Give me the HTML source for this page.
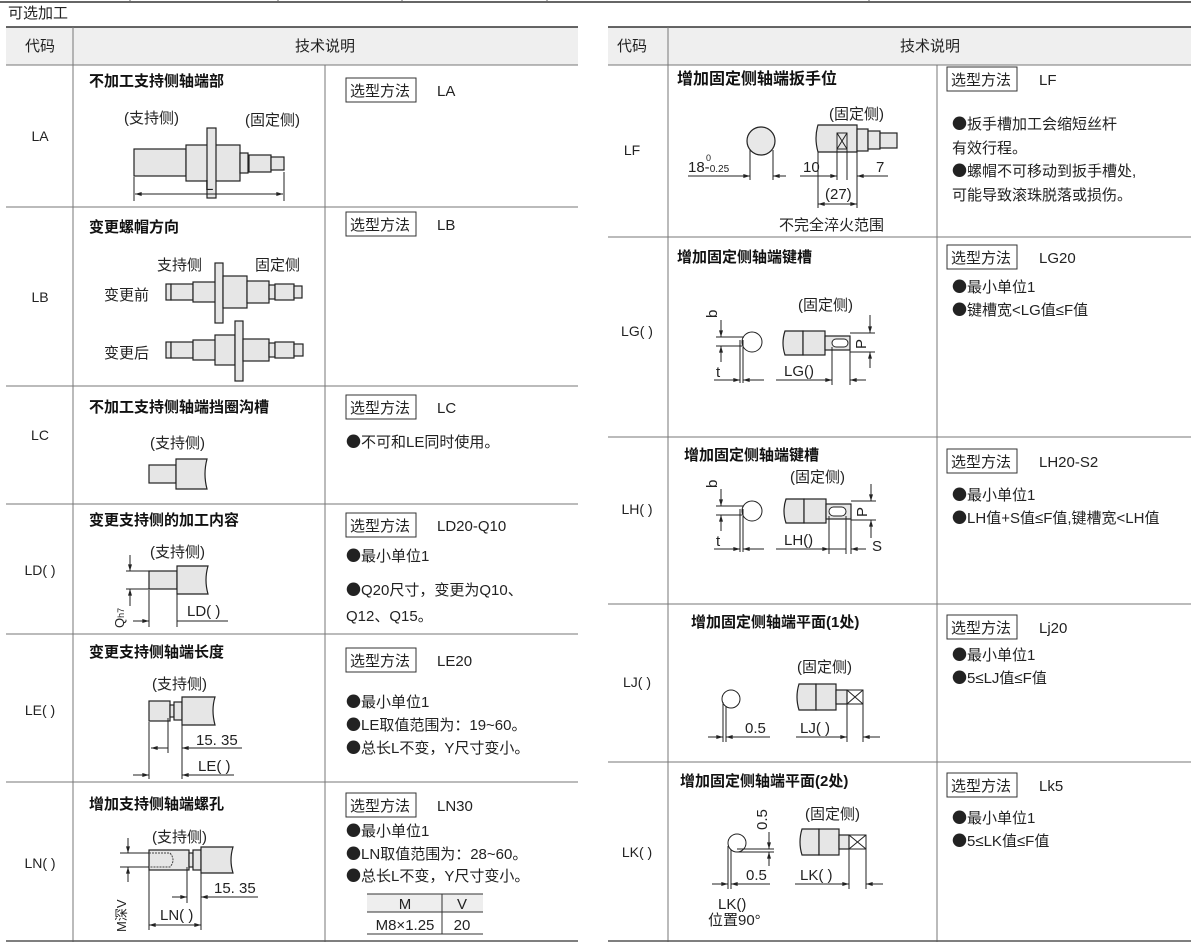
<!DOCTYPE html>
<html><head><meta charset="utf-8"><style>
html,body{margin:0;padding:0;background:#fff;}
svg{display:block;font-family:"Liberation Sans","Noto Sans CJK SC",sans-serif;}
.t{font-size:15px;fill:#222}
.c{font-size:14px;fill:#222}
.b{font-size:15px;font-weight:bold;fill:#111}
.s{font-size:13px;fill:#222}
.sh{fill:#e6e6e6;stroke:#222;stroke-width:1.2}
.ln{stroke:#222;stroke-width:1;fill:none}
.k{font-family:"Noto Sans CJK SC",sans-serif}
</style></head><body>
<svg width="1191" height="948" viewBox="0 0 1191 948" xmlns="http://www.w3.org/2000/svg">
<defs><marker id="a" viewBox="0 0 10 6" refX="10" refY="3" markerWidth="8" markerHeight="4" orient="auto-start-reverse"><path d="M0,0L10,3L0,6z" fill="#222"/></marker></defs>
<line x1="0" y1="2" x2="1191" y2="2" stroke="#666" stroke-width="2"/>
<g stroke="#666"><line x1="130" y1="0" x2="130" y2="3"/><line x1="278" y1="0" x2="278" y2="3"/><line x1="402" y1="0" x2="402" y2="3"/><line x1="547" y1="0" x2="547" y2="3"/><line x1="869" y1="0" x2="869" y2="3"/></g>
<text x="8" y="18" class="t">可选加工</text>

<!-- LEFT TABLE -->
<rect x="6" y="27" width="572" height="38" fill="#efefef"/>
<line x1="6" y1="27" x2="578" y2="27" stroke="#333" stroke-width="1.5"/>
<g stroke="#777" stroke-width="1">
<line x1="6" y1="65" x2="578" y2="65"/><line x1="6" y1="207" x2="578" y2="207"/><line x1="6" y1="386" x2="578" y2="386"/>
<line x1="6" y1="504" x2="578" y2="504"/><line x1="6" y1="634" x2="578" y2="634"/><line x1="6" y1="782" x2="578" y2="782"/>
<line x1="73" y1="27" x2="73" y2="942"/><line x1="325" y1="65" x2="325" y2="942"/></g>
<line x1="6" y1="941" x2="578" y2="941" stroke="#555" stroke-width="1.5"/>
<text x="40" y="51" class="t" text-anchor="middle">代码</text>
<text x="325" y="51" class="t" text-anchor="middle">技术说明</text>
<g class="c" text-anchor="middle"><text x="40" y="141">LA</text><text x="40" y="302">LB</text><text x="40" y="440">LC</text><text x="40" y="575">LD( )</text><text x="40" y="715">LE( )</text><text x="40" y="868">LN( )</text></g>
<g fill="none" stroke="#333"><rect x="346" y="78" width="70" height="24"/><rect x="346" y="212" width="70" height="24"/><rect x="346" y="395" width="70" height="24"/><rect x="346" y="513" width="70" height="24"/><rect x="346" y="648" width="70" height="24"/><rect x="346" y="793" width="70" height="24"/></g>
<g class="t"><text x="350" y="96">选型方法</text><text x="437" y="96">LA</text>
<text x="350" y="230">选型方法</text><text x="437" y="230">LB</text>
<text x="350" y="413">选型方法</text><text x="437" y="413">LC</text>
<text x="350" y="531">选型方法</text><text x="437" y="531">LD20-Q10</text>
<text x="350" y="666">选型方法</text><text x="437" y="666">LE20</text>
<text x="350" y="811">选型方法</text><text x="437" y="811">LN30</text>
<text x="346" y="447"><tspan class="k">●</tspan>不可和LE同时使用。</text>
<text x="346" y="561"><tspan class="k">●</tspan>最小单位1</text><text x="346" y="595"><tspan class="k">●</tspan>Q20尺寸，变更为Q10、</text><text x="346" y="621">Q12、Q15。</text>
<text x="346" y="707"><tspan class="k">●</tspan>最小单位1</text><text x="346" y="730"><tspan class="k">●</tspan>LE取值范围为：19~60。</text><text x="346" y="753"><tspan class="k">●</tspan>总长L不变，Y尺寸变小。</text>
<text x="346" y="836"><tspan class="k">●</tspan>最小单位1</text><text x="346" y="859"><tspan class="k">●</tspan>LN取值范围为：28~60。</text><text x="346" y="881"><tspan class="k">●</tspan>总长L不变，Y尺寸变小。</text></g>
<rect x="367" y="894" width="116" height="18" fill="#eee"/>
<g stroke="#333"><line x1="367" y1="894" x2="483" y2="894"/><line x1="367" y1="912" x2="483" y2="912"/><line x1="367" y1="934" x2="483" y2="934"/><line x1="442" y1="894" x2="442" y2="934"/></g>
<g class="t" text-anchor="middle"><text x="405" y="909">M</text><text x="462" y="909">V</text><text x="405" y="930">M8×1.25</text><text x="462" y="930">20</text></g>

<g class="b"><text x="89" y="86">不加工支持侧轴端部</text><text x="89" y="232">变更螺帽方向</text><text x="89" y="412">不加工支持侧轴端挡圈沟槽</text><text x="89" y="525">变更支持侧的加工内容</text><text x="89" y="657">变更支持侧轴端长度</text><text x="89" y="809">增加支持侧轴端螺孔</text></g>

<!-- LA -->
<text x="124" y="123" class="t">(支持侧)</text><text x="245" y="125" class="t">(固定侧)</text>
<rect class="sh" x="134" y="149" width="52" height="27"/><rect class="sh" x="186" y="145" width="54" height="36"/>
<rect class="sh" x="207" y="128" width="9" height="70"/>
<rect class="sh" x="240" y="153" width="8" height="20"/><rect class="sh" x="249" y="155" width="22" height="17"/><rect class="sh" x="271" y="157" width="13" height="13"/>
<line class="ln" x1="134" y1="177" x2="134" y2="201"/><line class="ln" x1="284" y1="172" x2="284" y2="201"/>
<line class="ln" x1="135" y1="194" x2="283" y2="194" marker-start="url(#a)" marker-end="url(#a)"/>
<text x="205" y="190" class="t">L</text>

<!-- LB -->
<text x="157" y="270" class="t">支持侧</text><text x="255" y="270" class="t">固定侧</text>
<text x="104" y="300" class="t">变更前</text><text x="104" y="358" class="t">变更后</text>
<rect class="sh" x="166" y="284" width="5" height="16"/><rect class="sh" x="171" y="284" width="22" height="16"/><rect class="sh" x="193" y="282" width="23" height="20"/>
<rect class="sh" x="215" y="263" width="8" height="60"/><rect class="sh" x="223" y="276" width="24" height="32"/><rect class="sh" x="247" y="281" width="22" height="22"/><rect class="sh" x="269" y="285" width="6" height="14"/><rect class="sh" x="275" y="284" width="19" height="16"/><rect class="sh" x="294" y="286" width="8" height="12"/>
<rect class="sh" x="166" y="342" width="5" height="16"/><rect class="sh" x="171" y="342" width="22" height="16"/><rect class="sh" x="193" y="340" width="23" height="20"/>
<rect class="sh" x="215" y="335" width="20" height="30"/><rect class="sh" x="235" y="321" width="8" height="60"/><rect class="sh" x="243" y="339" width="26" height="22"/><rect class="sh" x="269" y="343" width="6" height="14"/><rect class="sh" x="275" y="342" width="19" height="16"/><rect class="sh" x="294" y="344" width="9" height="12"/>

<!-- LC -->
<text x="150" y="448" class="t">(支持侧)</text>
<rect class="sh" x="149" y="465" width="27" height="18"/><path class="sh" d="M176,459H207Q203,474 207,489H176Z"/>

<!-- LD -->
<text x="150" y="557" class="t">(支持侧)</text>
<rect class="sh" x="149" y="571" width="28" height="18"/><path class="sh" d="M177,566H208Q204,580 208,594H177Z"/>
<line class="ln" x1="126" y1="571" x2="149" y2="571"/><line class="ln" x1="126" y1="589" x2="149" y2="589"/>
<line class="ln" x1="130" y1="555" x2="130" y2="571" marker-end="url(#a)"/><line class="ln" x1="130" y1="606" x2="130" y2="589" marker-end="url(#a)"/>
<line class="ln" x1="149" y1="590" x2="149" y2="627"/><line class="ln" x1="177" y1="594" x2="177" y2="627"/>
<line class="ln" x1="133" y1="621" x2="149" y2="621" marker-end="url(#a)"/><line class="ln" x1="177" y1="621" x2="228" y2="621"/>
<text x="187" y="616" class="t">LD( )</text>
<text transform="translate(124,628) rotate(-90)" class="s">Q<tspan font-size="9">h7</tspan></text>

<!-- LE -->
<text x="152" y="689" class="t">(支持侧)</text>
<rect class="sh" x="149" y="701" width="21" height="20"/><rect class="sh" x="170" y="705" width="4" height="12"/><rect class="sh" x="174" y="702" width="8" height="18"/><path class="sh" d="M182,697H215Q211,710 215,725H182Z"/>
<line class="ln" x1="149" y1="722" x2="149" y2="779"/><line class="ln" x1="168" y1="718" x2="168" y2="753"/><line class="ln" x1="182" y1="725" x2="182" y2="779"/>
<line class="ln" x1="151" y1="748" x2="168" y2="748" marker-start="url(#a)"/><line class="ln" x1="182" y1="748" x2="242" y2="748" marker-start="url(#a)"/>
<line class="ln" x1="133" y1="775" x2="149" y2="775" marker-end="url(#a)"/><line class="ln" x1="182" y1="775" x2="234" y2="775" marker-start="url(#a)"/>
<text x="196" y="745" class="t">15. 35</text><text x="198" y="771" class="t">LE( )</text>

<!-- LN -->
<text x="152" y="842" class="t">(支持侧)</text>
<rect class="sh" x="149" y="850" width="40" height="20"/><path d="M149,853H170Q176,860 170,867H149" fill="none" stroke="#444" stroke-dasharray="2,1"/>
<rect class="sh" x="189" y="853" width="4" height="14"/><rect class="sh" x="193" y="850" width="8" height="20"/><path class="sh" d="M201,847H233Q229,860 233,873H201Z"/>
<line class="ln" x1="120" y1="853" x2="149" y2="853"/><line class="ln" x1="120" y1="867" x2="149" y2="867"/>
<line class="ln" x1="128" y1="838" x2="128" y2="853" marker-end="url(#a)"/><line class="ln" x1="128" y1="882" x2="128" y2="867" marker-end="url(#a)"/>
<line class="ln" x1="149" y1="870" x2="149" y2="930"/><line class="ln" x1="187" y1="867" x2="187" y2="903"/><line class="ln" x1="201" y1="873" x2="201" y2="930"/>
<line class="ln" x1="172" y1="897" x2="187" y2="897" marker-end="url(#a)"/><line class="ln" x1="201" y1="897" x2="258" y2="897" marker-start="url(#a)"/>
<line class="ln" x1="149" y1="925" x2="201" y2="925" marker-start="url(#a)" marker-end="url(#a)"/>
<text x="214" y="893" class="t">15. 35</text><text x="160" y="920" class="t">LN( )</text>
<text transform="translate(126,932) rotate(-90)" class="s">M深V</text>

<!-- RIGHT TABLE -->
<rect x="608" y="27" width="583" height="38" fill="#efefef"/>
<line x1="608" y1="27" x2="1191" y2="27" stroke="#333" stroke-width="1.5"/>
<g stroke="#777" stroke-width="1">
<line x1="608" y1="65" x2="1191" y2="65"/><line x1="608" y1="237" x2="1191" y2="237"/><line x1="608" y1="437" x2="1191" y2="437"/>
<line x1="608" y1="604" x2="1191" y2="604"/><line x1="608" y1="762" x2="1191" y2="762"/>
<line x1="668" y1="27" x2="668" y2="942"/><line x1="937" y1="65" x2="937" y2="942"/></g>
<line x1="608" y1="941" x2="1191" y2="941" stroke="#555" stroke-width="1.5"/>
<text x="632" y="51" class="t" text-anchor="middle">代码</text>
<text x="930" y="51" class="t" text-anchor="middle">技术说明</text>
<g class="c" text-anchor="middle"><text x="632" y="155">LF</text><text x="637" y="336">LG( )</text><text x="637" y="514">LH( )</text><text x="637" y="687">LJ( )</text><text x="637" y="857">LK( )</text></g>
<g class="b"><text x="677" y="84" font-size="16">增加固定侧轴端扳手位</text><text x="677" y="262">增加固定侧轴端键槽</text><text x="684" y="460">增加固定侧轴端键槽</text><text x="691" y="627">增加固定侧轴端平面(1处)</text><text x="680" y="786">增加固定侧轴端平面(2处)</text></g>
<g fill="none" stroke="#333"><rect x="947" y="67" width="70" height="24"/><rect x="947" y="245" width="70" height="24"/><rect x="947" y="449" width="70" height="24"/><rect x="947" y="615" width="70" height="24"/><rect x="947" y="773" width="70" height="24"/></g>
<g class="t"><text x="951" y="85">选型方法</text><text x="1039" y="85">LF</text>
<text x="951" y="263">选型方法</text><text x="1039" y="263">LG20</text>
<text x="951" y="467">选型方法</text><text x="1039" y="467">LH20-S2</text>
<text x="951" y="633">选型方法</text><text x="1039" y="633">Lj20</text>
<text x="951" y="791">选型方法</text><text x="1039" y="791">Lk5</text>
<text x="952" y="129"><tspan class="k">●</tspan>扳手槽加工会缩短丝杆</text><text x="952" y="153">有效行程。</text><text x="952" y="176"><tspan class="k">●</tspan>螺帽不可移动到扳手槽处,</text><text x="952" y="200">可能导致滚珠脱落或损伤。</text>
<text x="952" y="292"><tspan class="k">●</tspan>最小单位1</text><text x="952" y="315"><tspan class="k">●</tspan>键槽宽&lt;LG值≤F值</text>
<text x="952" y="500"><tspan class="k">●</tspan>最小单位1</text><text x="952" y="523"><tspan class="k">●</tspan>LH值+S值≤F值,键槽宽&lt;LH值</text>
<text x="952" y="660"><tspan class="k">●</tspan>最小单位1</text><text x="952" y="683"><tspan class="k">●</tspan>5≤LJ值≤F值</text>
<text x="952" y="823"><tspan class="k">●</tspan>最小单位1</text><text x="952" y="846"><tspan class="k">●</tspan>5≤LK值≤F值</text></g>

<!-- LF -->
<text x="829" y="119" class="t">(固定侧)</text>
<circle cx="761" cy="141" r="14" fill="#e8e8e8" stroke="#222" stroke-width="1.2"/>
<line class="ln" x1="750" y1="150" x2="750" y2="180"/><line class="ln" x1="773" y1="150" x2="773" y2="180"/>
<line class="ln" x1="688" y1="176" x2="750" y2="176" marker-end="url(#a)"/><line class="ln" x1="773" y1="176" x2="786" y2="176" marker-start="url(#a)"/>
<text x="688" y="172" class="t">18-<tspan font-size="10">0.25</tspan></text><text x="706" y="161" font-size="9" fill="#222">0</text>
<path class="sh" d="M818,125H857V152H818Q814,138 818,125Z"/><rect class="sh" x="857" y="129" width="11" height="22"/><rect class="sh" x="868" y="131" width="12" height="18"/><rect class="sh" x="880" y="133" width="17" height="15"/>
<rect x="837" y="133" width="10" height="16" fill="none" stroke="#222"/><path class="ln" d="M837,133L847,149M847,133L837,149"/>
<line class="ln" x1="818" y1="152" x2="818" y2="208"/><line class="ln" x1="837" y1="149" x2="837" y2="180"/><line class="ln" x1="847" y1="149" x2="847" y2="180"/><line class="ln" x1="857" y1="152" x2="857" y2="208"/>
<line class="ln" x1="800" y1="176" x2="837" y2="176" marker-end="url(#a)"/><line class="ln" x1="857" y1="176" x2="888" y2="176" marker-start="url(#a)"/>
<line class="ln" x1="818" y1="204" x2="857" y2="204" marker-start="url(#a)" marker-end="url(#a)"/>
<text x="803" y="172" class="t">10</text><text x="876" y="172" class="t">7</text><text x="825" y="199" class="t">(27)</text>
<text x="779" y="230" class="t">不完全淬火范围</text>

<!-- LG -->
<text x="798" y="310" class="t">(固定侧)</text>
<circle cx="752" cy="342" r="10" fill="#fff" stroke="#222"/>
<line class="ln" x1="716" y1="337" x2="744" y2="337"/><line class="ln" x1="716" y1="346" x2="742" y2="346"/>
<line class="ln" x1="721" y1="320" x2="721" y2="337" marker-end="url(#a)"/><line class="ln" x1="721" y1="362" x2="721" y2="346" marker-end="url(#a)"/>
<line class="ln" x1="740" y1="340" x2="740" y2="383"/><line class="ln" x1="743" y1="340" x2="743" y2="383"/>
<line class="ln" x1="714" y1="380" x2="740" y2="380" marker-end="url(#a)"/><line class="ln" x1="743" y1="380" x2="764" y2="380" marker-start="url(#a)"/>
<text transform="translate(717,318) rotate(-90)" class="t">b</text><text x="716" y="377" class="t">t</text>
<path class="sh" d="M785,331H803V355H785Q781,343 785,331Z"/><rect class="sh" x="803" y="331" width="22" height="24"/><rect class="sh" x="825" y="336" width="25" height="14"/>
<rect x="832" y="339" width="16" height="8" rx="4" fill="#fff" stroke="#222"/>
<line class="ln" x1="832" y1="347" x2="832" y2="385"/><line class="ln" x1="850" y1="350" x2="850" y2="385"/>
<line class="ln" x1="776" y1="380" x2="832" y2="380" marker-end="url(#a)"/><line class="ln" x1="850" y1="380" x2="866" y2="380" marker-start="url(#a)"/>
<text x="784" y="376" class="t">LG()</text>
<line class="ln" x1="850" y1="333" x2="875" y2="333"/><line class="ln" x1="850" y1="352" x2="875" y2="352"/>
<line class="ln" x1="870" y1="315" x2="870" y2="333" marker-end="url(#a)"/><line class="ln" x1="870" y1="368" x2="870" y2="352" marker-end="url(#a)"/>
<text transform="translate(866,349) rotate(-90)" class="t">P</text>

<!-- LH -->
<text x="790" y="482" class="t">(固定侧)</text>
<circle cx="752" cy="511" r="10" fill="#fff" stroke="#222"/>
<line class="ln" x1="716" y1="506" x2="744" y2="506"/><line class="ln" x1="716" y1="515" x2="742" y2="515"/>
<line class="ln" x1="721" y1="489" x2="721" y2="506" marker-end="url(#a)"/><line class="ln" x1="721" y1="531" x2="721" y2="515" marker-end="url(#a)"/>
<line class="ln" x1="740" y1="509" x2="740" y2="552"/><line class="ln" x1="743" y1="509" x2="743" y2="552"/>
<line class="ln" x1="714" y1="549" x2="740" y2="549" marker-end="url(#a)"/><line class="ln" x1="743" y1="549" x2="764" y2="549" marker-start="url(#a)"/>
<text transform="translate(717,488) rotate(-90)" class="t">b</text><text x="716" y="546" class="t">t</text>
<path class="sh" d="M786,499H804V523H786Q782,511 786,499Z"/><rect class="sh" x="804" y="499" width="22" height="24"/><rect class="sh" x="826" y="504" width="25" height="15"/>
<rect x="829" y="507" width="17" height="9" rx="4.5" fill="#fff" stroke="#222"/>
<line class="ln" x1="829" y1="516" x2="829" y2="554"/><line class="ln" x1="846" y1="516" x2="846" y2="554"/><line class="ln" x1="851" y1="519" x2="851" y2="554"/>
<line class="ln" x1="776" y1="549" x2="829" y2="549" marker-end="url(#a)"/><line class="ln" x1="829" y1="549" x2="846" y2="549"/><line class="ln" x1="851" y1="549" x2="866" y2="549" marker-start="url(#a)"/>
<text x="784" y="545" class="t">LH()</text><text x="872" y="551" class="t">S</text>
<line class="ln" x1="851" y1="501" x2="876" y2="501"/><line class="ln" x1="851" y1="520" x2="876" y2="520"/>
<line class="ln" x1="871" y1="484" x2="871" y2="501" marker-end="url(#a)"/><line class="ln" x1="871" y1="538" x2="871" y2="520" marker-end="url(#a)"/>
<text transform="translate(867,517) rotate(-90)" class="t">P</text>

<!-- LJ -->
<text x="797" y="672" class="t">(固定侧)</text>
<circle cx="731" cy="699" r="9" fill="#fff" stroke="#222"/>
<line class="ln" x1="723" y1="702" x2="723" y2="742"/><line class="ln" x1="726" y1="706" x2="726" y2="742"/>
<line class="ln" x1="708" y1="737" x2="723" y2="737" marker-end="url(#a)"/><line class="ln" x1="726" y1="737" x2="770" y2="737" marker-start="url(#a)"/>
<text x="745" y="733" class="t">0.5</text>
<path class="sh" d="M799,684H816V710H799Q795,697 799,684Z"/><rect class="sh" x="816" y="684" width="20" height="26"/><rect class="sh" x="836" y="690" width="11" height="14"/>
<rect x="847" y="690" width="16" height="14" fill="none" stroke="#222"/><path class="ln" d="M847,690L863,704M863,690L847,704"/>
<line class="ln" x1="847" y1="704" x2="847" y2="742"/><line class="ln" x1="863" y1="704" x2="863" y2="742"/>
<line class="ln" x1="796" y1="737" x2="847" y2="737" marker-end="url(#a)"/><line class="ln" x1="863" y1="737" x2="880" y2="737" marker-start="url(#a)"/>
<text x="800" y="733" class="t">LJ( )</text>

<!-- LK -->
<text x="805" y="819" class="t">(固定侧)</text>
<circle cx="737" cy="843" r="9" fill="#fff" stroke="#222"/>
<line class="ln" x1="728" y1="846" x2="728" y2="889"/><line class="ln" x1="731" y1="850" x2="731" y2="889"/>
<line class="ln" x1="737" y1="849" x2="774" y2="849"/><line class="ln" x1="737" y1="852" x2="774" y2="852"/>
<line class="ln" x1="769" y1="832" x2="769" y2="849" marker-end="url(#a)"/><line class="ln" x1="769" y1="866" x2="769" y2="852" marker-end="url(#a)"/>
<text transform="translate(767,830) rotate(-90)" class="t">0.5</text>
<line class="ln" x1="712" y1="884" x2="728" y2="884" marker-end="url(#a)"/><line class="ln" x1="731" y1="884" x2="770" y2="884" marker-start="url(#a)"/>
<text x="746" y="880" class="t">0.5</text>
<path class="sh" d="M802,829H819V855H802Q798,842 802,829Z"/><rect class="sh" x="819" y="829" width="20" height="26"/><rect class="sh" x="839" y="835" width="10" height="14"/>
<rect x="849" y="835" width="17" height="14" fill="none" stroke="#222"/><path class="ln" d="M849,835L866,849M866,835L849,849"/>
<line class="ln" x1="849" y1="849" x2="849" y2="889"/><line class="ln" x1="866" y1="849" x2="866" y2="889"/>
<line class="ln" x1="795" y1="884" x2="849" y2="884" marker-end="url(#a)"/><line class="ln" x1="866" y1="884" x2="883" y2="884" marker-start="url(#a)"/>
<text x="800" y="880" class="t">LK( )</text>
<text x="718" y="909" class="t">LK()</text><text x="708" y="925" class="t">位置90°</text>
</svg>
</body></html>
